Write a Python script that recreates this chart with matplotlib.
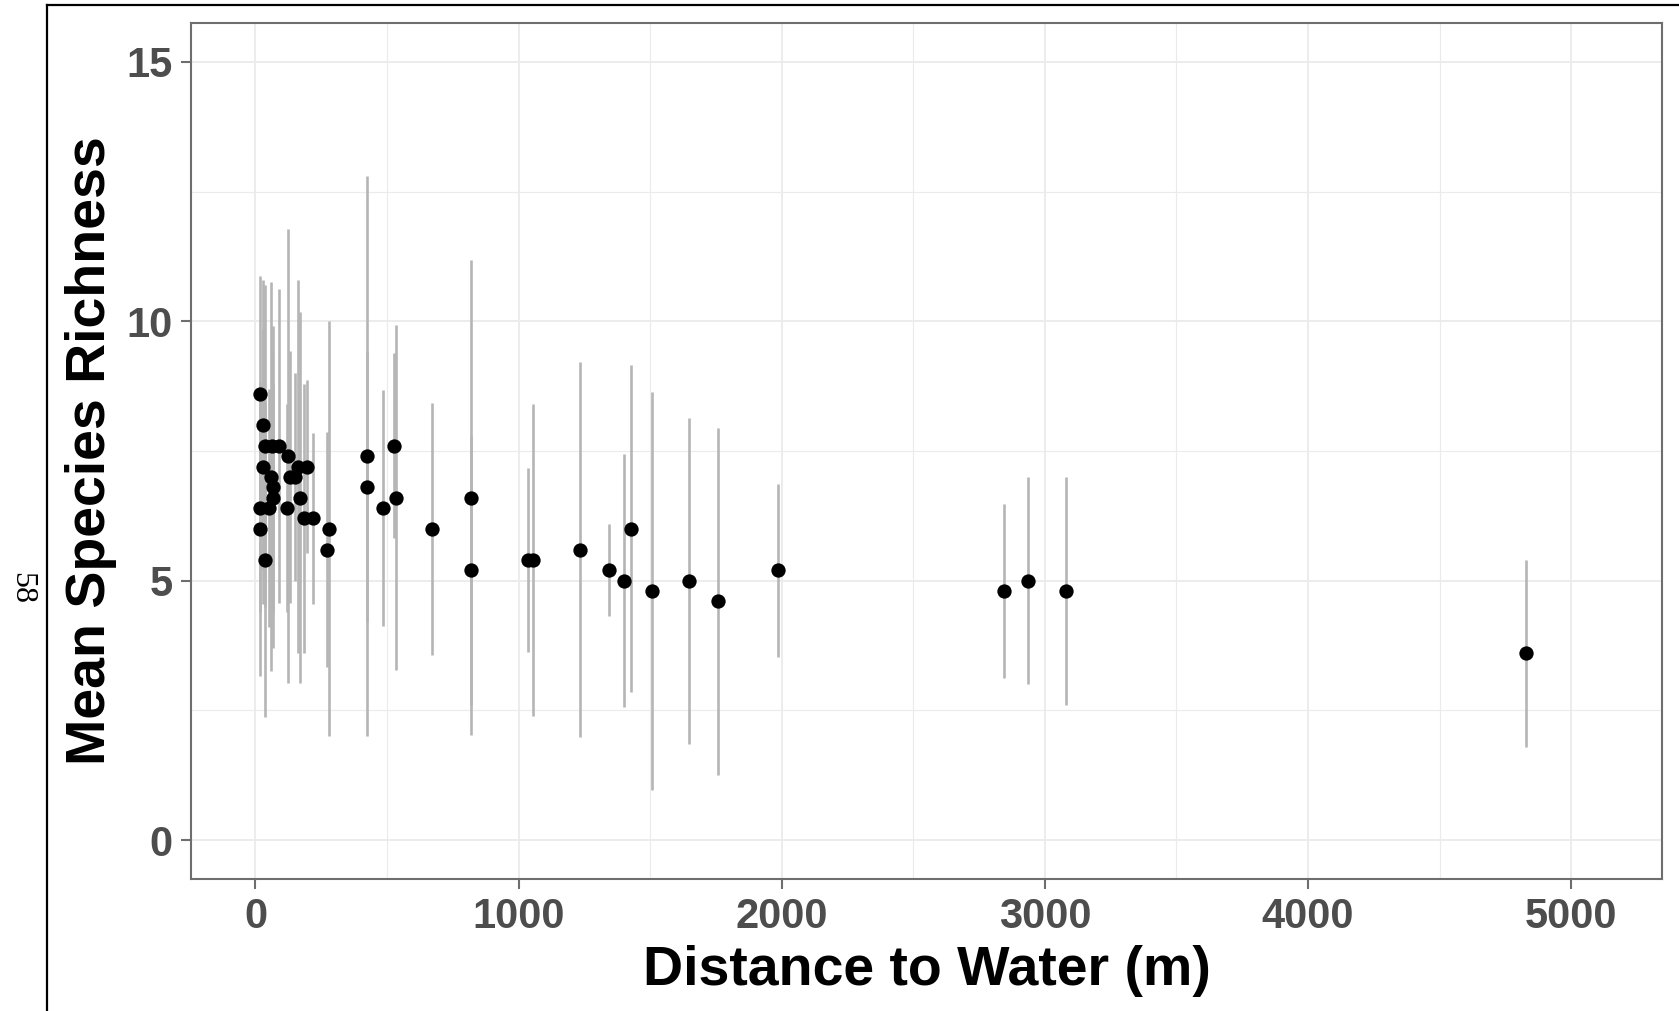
"""
Mean species richness vs. distance to water, with error bars.

Output: out.png
"""

import matplotlib
matplotlib.use("Agg")

import matplotlib.pyplot as plt
from matplotlib.lines import Line2D
from matplotlib.ticker import MultipleLocator

# ---------------------------------------------------------------------------
# Data: distance (m), mean richness, half-width of bar
# ---------------------------------------------------------------------------
distance = [19, 29, 38, 62, 88, 123, 29, 60, 67, 67, 19, 51, 120, 130, 150,
            162, 195, 168, 185, 220, 16, 279, 272, 38,
            422, 422, 485, 525, 535, 671, 818, 820, 1035, 1055, 1235, 1345,
            1401, 1427, 1505, 1648, 1758, 1985, 2844, 2937, 3080, 4830]
richness = [8.6, 8.0, 7.6, 7.6, 7.6, 7.4, 7.2, 7.0, 6.8, 6.6, 6.4, 6.4, 6.4,
            7.0, 7.0, 7.2, 7.2, 6.6, 6.2, 6.2, 6.0, 6.0, 5.6, 5.4,
            7.4, 6.8, 6.4, 7.6, 6.6, 6.0, 6.6, 5.2, 5.4, 5.4, 5.6, 5.2,
            5.0, 6.0, 4.8, 5.0, 4.6, 5.2, 4.8, 5.0, 4.8, 3.6]
spread = [2.28, 2.8, 3.1, 1.8, 3.03, 4.38, 2.65, 3.75, 3.1, 2.2, 2.0, 2.3, 2.0,
          2.43, 2.0, 3.6, 1.67, 3.57, 2.6, 1.65, 2.83, 4.0, 2.27, 3.02,
          5.4, 2.6, 2.28, 1.78, 3.33, 2.43, 4.58, 2.59, 1.78, 3.01, 3.62, 0.89,
          2.44, 3.15, 3.84, 3.14, 3.35, 1.67, 1.67, 2.0, 2.2, 1.8]

X_TICKS = [0, 1000, 2000, 3000, 4000, 5000]
Y_TICKS = [0, 5, 10, 15]

C_BAR  = "#B5B5B5"   # error bars
C_GRID = "#EBEBEB"   # grid lines
C_EDGE = "#6E6E6E"   # panel border / ticks
C_TICK = "#4D4D4D"   # tick labels

FONT = "Liberation Sans"


def main():
    fig = plt.figure(figsize=(16.79, 10.11), dpi=100, facecolor="white")
    ax = fig.add_axes([191 / 1679, 1 - 879 / 1011,
                       (1662 - 191) / 1679, (879 - 23) / 1011])

    # error bars, then means on top
    lo = [m - s for m, s in zip(richness, spread)]
    hi = [m + s for m, s in zip(richness, spread)]
    ax.vlines(distance, lo, hi, color=C_BAR, linewidth=1.9, zorder=2)
    ax.plot(distance, richness, "o", color="black", markersize=10.3,
            markeredgewidth=0, zorder=3)

    ax.set_xlim(-245, 5345)
    ax.set_ylim(-0.75, 15.75)
    ax.set_xticks(X_TICKS)
    ax.set_yticks(Y_TICKS)
    ax.xaxis.set_minor_locator(MultipleLocator(500))
    ax.yaxis.set_minor_locator(MultipleLocator(2.5))

    ax.grid(True, which="major", color=C_GRID, linewidth=1.3, zorder=0)
    ax.grid(True, which="minor", color=C_GRID, linewidth=0.8, zorder=0)
    ax.set_axisbelow(True)

    for spine in ax.spines.values():
        spine.set_color(C_EDGE)
        spine.set_linewidth(1.5)

    ax.tick_params(which="major", length=7, width=1.5, color=C_EDGE, pad=6,
                   labelsize=30, labelcolor=C_TICK)
    ax.tick_params(which="minor", length=0)
    for lab in ax.get_xticklabels() + ax.get_yticklabels():
        lab.set_fontfamily(FONT)
        lab.set_fontweight("bold")

    ax.set_xlabel("Distance to Water (m)", fontsize=40, fontweight="bold",
                  fontfamily=FONT, color="black", labelpad=6)
    ax.set_ylabel("Mean Species Richness", fontsize=40, fontweight="bold",
                  fontfamily=FONT, color="black", labelpad=7)

    # scanned page frame and page number
    fig.add_artist(Line2D([47 / 1679, 47 / 1679], [0, 1 - 4.7 / 1011],
                          color="black", linewidth=1.6,
                          transform=fig.transFigure))
    fig.add_artist(Line2D([47 / 1679, 1], [1 - 4.7 / 1011, 1 - 4.7 / 1011],
                          color="black", linewidth=1.6,
                          transform=fig.transFigure))
    fig.text(22 / 1679, 1 - 588 / 1011, "58", rotation=-90,
             ha="center", va="center", fontsize=23,
             fontfamily="Liberation Serif", color="black")

    fig.savefig("out.png", dpi=100, facecolor="white")
    plt.close(fig)


if __name__ == "__main__":
    main()
